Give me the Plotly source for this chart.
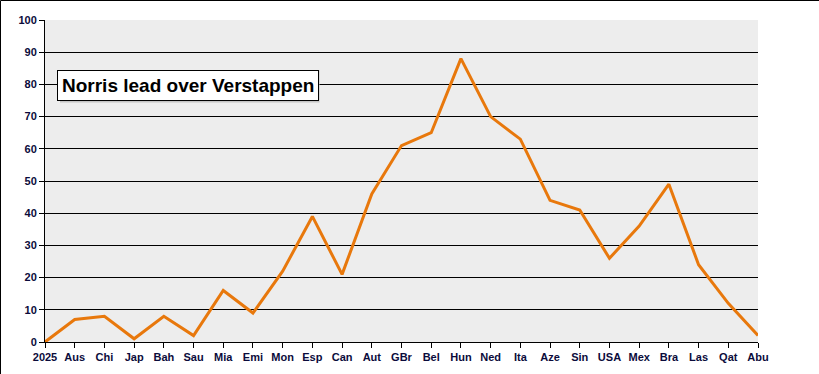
import plotly.graph_objects as go

races = ["2025", "Aus", "Chi", "Jap", "Bah", "Sau", "Mia", "Emi", "Mon", "Esp", "Can", "Aut",
         "GBr", "Bel", "Hun", "Ned", "Ita", "Aze", "Sin", "USA", "Mex", "Bra", "Las", "Qat", "Abu"]
lead = [0, 7, 8, 1, 8, 2, 16, 9, 22, 39, 21, 46, 61, 65, 88, 70, 63, 44, 41, 26, 36, 49, 24, 12, 2]
y_ticks = list(range(0, 101, 10))
title_text = "Norris lead over Verstappen"

W, H = 819, 374
L, R, T, B = 45, 61, 20, 32
pw, ph = W - L - R, H - T - B

fig = go.Figure()
fig.add_trace(go.Scatter(
    x=races, y=lead, mode="lines",
    line=dict(color="#E8780C", width=3),
    cliponaxis=False, hoverinfo="x+y",
))

tickfont = dict(family="Liberation Sans, Arial, sans-serif", size=11, color="#0b0b3b", weight="bold")
fig.update_layout(
    width=W, height=H,
    margin=dict(l=L, r=R, t=T, b=B, pad=0),
    paper_bgcolor="white", plot_bgcolor="#EDEDED",
    showlegend=False,
    xaxis=dict(
        type="category", range=[0, len(races) - 1],
        showgrid=False, showline=True, linecolor="black", linewidth=1,
        ticks="outside", ticklen=5, tickcolor="black", tickwidth=1,
        tickfont=tickfont, zeroline=False, fixedrange=True,
    ),
    yaxis=dict(
        range=[0, 100], tickvals=y_ticks,
        showgrid=True, gridcolor="black", gridwidth=1,
        showline=True, linecolor="black", linewidth=1,
        ticks="outside", ticklen=5, tickcolor="black", tickwidth=1,
        tickfont=tickfont, zeroline=False, fixedrange=True,
    ),
    annotations=[dict(
        text="<b>" + title_text + "</b>",
        xref="paper", yref="paper",
        x=(188 - L) / pw, y=(342 - 85) / ph,
        xanchor="center", yanchor="middle", showarrow=False,
        font=dict(family="Liberation Sans, Arial, sans-serif", size=19, color="black"),
        bgcolor="white", bordercolor="black", borderwidth=1, borderpad=4,
    )],
    shapes=[
        # subtle shadow behind title box
        dict(type="rect", xref="paper", yref="paper", layer="above",
             x0=(60 - L) / pw, x1=(319.5 - L) / pw,
             y0=(342 - 102.5) / ph, y1=(342 - 70) / ph,
             fillcolor="#c4c4c4", line=dict(width=0)),
        dict(type="line", xref="paper", yref="paper",
             x0=(0.5 - L) / pw, x1=(W - L) / pw,
             y0=1 + (T - 0.5) / ph, y1=1 + (T - 0.5) / ph,
             line=dict(color="black", width=1)),
        dict(type="line", xref="paper", yref="paper",
             x0=(0.5 - L) / pw, x1=(0.5 - L) / pw,
             y0=1 + (T - 0.5) / ph, y1=-B / ph,
             line=dict(color="black", width=1)),
    ],
)

fig.write_html("out.html", config={"displayModeBar": False},
               post_script="document.body.style.margin='0';")
